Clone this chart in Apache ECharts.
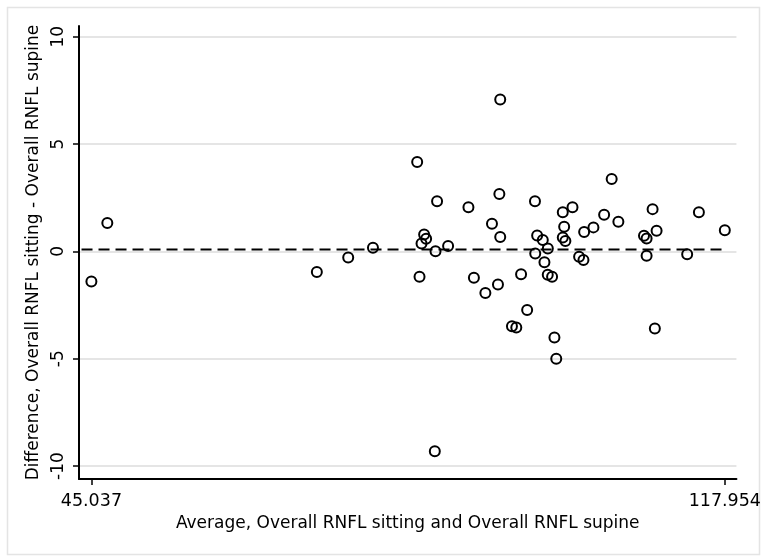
<!DOCTYPE html>
<html>
<head>
<meta charset="utf-8">
<script src="https://cdn.jsdelivr.net/npm/echarts@6/dist/echarts.min.js"></script>
<style>
html,body{margin:0;padding:0;background:#fff;}
#chart{width:764px;height:558px;}
</style>
</head>
<body>
<div id="chart"></div>
<script>
// Average of the two measurements (x)
const avgValues = [
  45.037, 46.87, 70.99, 74.60, 77.45, 82.54, 82.81, 83.34, 83.04, 83.57,
  84.65, 84.83, 86.10, 88.44, 89.07, 90.39, 91.84, 91.15, 92.10, 92.00,
  92.10, 93.45, 93.95, 94.50, 95.20, 96.10, 96.35, 97.00, 97.58, 96.13,
  97.19, 97.57, 98.07, 98.34, 98.55, 99.30, 100.42, 99.46, 99.30, 99.60,
  101.76, 102.83, 104.06, 104.93, 101.18, 101.68, 105.70, 108.65, 108.95, 109.64,
  110.10, 108.95, 114.97, 113.62, 117.954, 109.90, 84.57
];
// Difference sitting - supine (y)
const diffValues = [
  -1.40, 1.32, -0.96, -0.28, 0.17, 4.16, -1.18, 0.79, 0.37, 0.59,
  0.01, 2.34, 0.25, 2.06, -1.23, -1.94, -1.54, 1.29, 7.08, 2.67,
  0.67, -3.48, -3.54, -1.06, -2.73, 2.34, 0.74, 0.53, 0.14, -0.10,
  -0.50, -1.09, -1.18, -4.01, -5.00, 1.82, 2.06, 1.15, 0.65, 0.49,
  0.91, 1.12, 1.71, 3.37, -0.25, -0.40, 1.38, 0.73, 0.60, 1.97,
  0.96, -0.20, 1.82, -0.13, 0.99, -3.59, -9.31
];
// Mean difference line
const meanDiff = 0.09;
const meanLineX = [43.9, 117.954];
// Axis tick labels
const xTicks = [45.037, 117.954];
const yTicks = [-10, -5, 0, 5, 10];
const xRange = [43.61, 119.29];
const yRange = [-10.6, 10.5];

const xTitle = 'Average, Overall RNFL sitting and Overall RNFL supine';
const yTitle = 'Difference, Overall RNFL sitting - Overall RNFL supine';

const points = avgValues.map((x, i) => [x, diffValues[i]]);
const meanLine = meanLineX.map(x => [x, meanDiff]);

const FONT = 'DejaVu Sans';
const chart = echarts.init(document.getElementById('chart'));
chart.setOption({
  animation: false,
  backgroundColor: '#ffffff',
  graphic: [{
    type: 'rect',
    left: 5, top: 5,
    shape: {width: 752, height: 547},
    style: {fill: 'none', stroke: '#e4e4e4', lineWidth: 1.5},
    silent: true
  }],
  grid: {left: 79, right: 25, top: 26, bottom: 79},
  xAxis: {
    type: 'value',
    min: xRange[0], max: xRange[1],
    name: xTitle,
    nameLocation: 'middle',
    nameGap: 28,
    nameTextStyle: {fontFamily: FONT, fontSize: 17, color: '#000'},
    axisLine: {show: true, onZero: false, lineStyle: {color: '#000', width: 2}},
    axisTick: {show: true, customValues: xTicks, length: 6, lineStyle: {color: '#000', width: 1.5}},
    axisLabel: {customValues: xTicks, fontFamily: FONT, fontSize: 17.5, color: '#000', margin: 13,
      formatter: v => String(v)},
    splitLine: {show: false}
  },
  yAxis: {
    type: 'value',
    min: yRange[0], max: yRange[1],
    name: yTitle,
    nameLocation: 'middle',
    nameGap: 32,
    nameRotate: 90,
    nameTextStyle: {fontFamily: FONT, fontSize: 17, color: '#000'},
    axisLine: {show: true, onZero: false, lineStyle: {color: '#000', width: 2}},
    axisTick: {show: true, customValues: yTicks, length: 6, lineStyle: {color: '#000', width: 1.5}},
    axisLabel: {customValues: yTicks, fontFamily: FONT, fontSize: 17, color: '#000', rotate: 90, margin: 12,
      formatter: v => String(v)},
    splitLine: {show: true, customValues: yTicks, lineStyle: {color: '#dcdcdc', width: 1.5}}
  },
  series: [
    {
      type: 'line',
      data: meanLine,
      symbol: 'none',
      lineStyle: {color: '#000', width: 2, type: [11, 6]},
      z: 2,
      silent: true
    },
    {
      type: 'scatter',
      data: points,
      symbol: 'circle',
      symbolSize: 10,
      itemStyle: {color: 'rgba(255,255,255,0)', borderColor: '#000', borderWidth: 2, opacity: 1},
      z: 3
    }
  ]
});
</script>
</body>
</html>
